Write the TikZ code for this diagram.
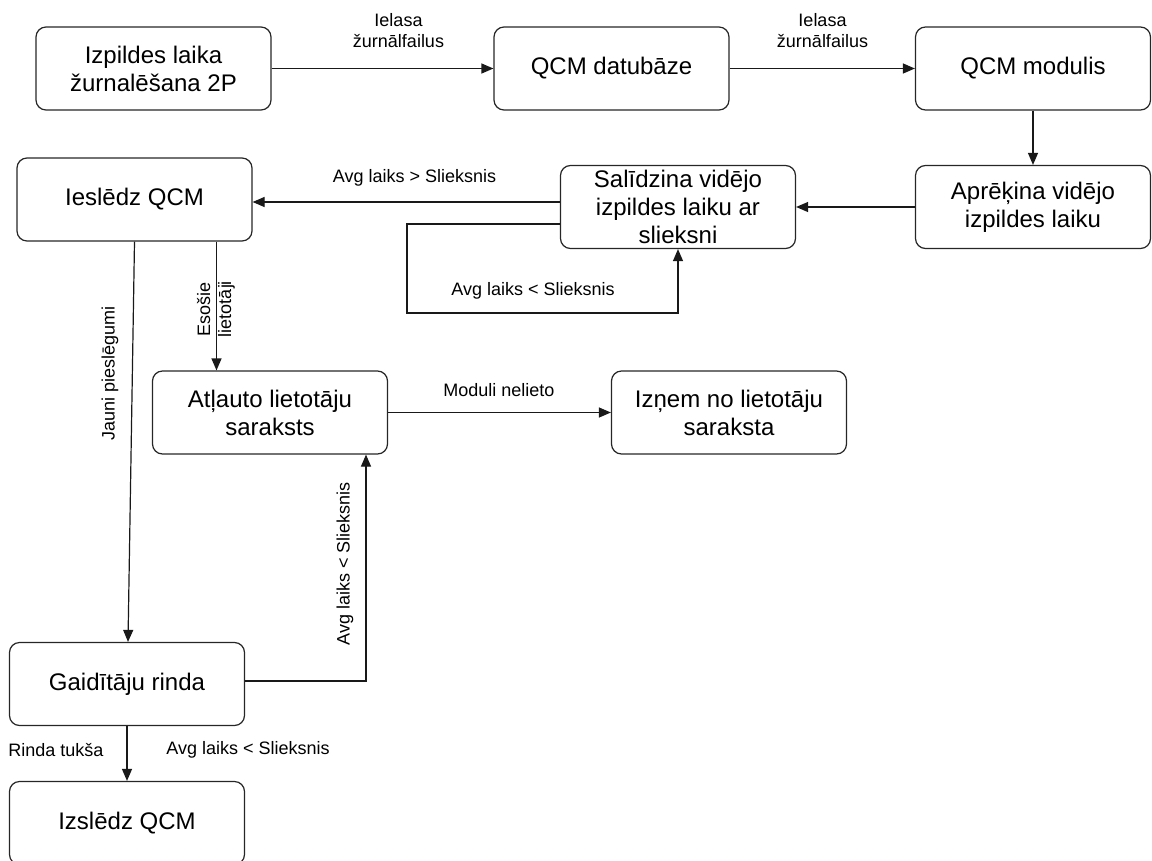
\documentclass[tikz,border=0pt]{standalone}
\usepackage{fontspec}
\setmainfont{Liberation Sans}
\usetikzlibrary{arrows.meta}
\begin{document}
\begin{tikzpicture}[x=1pt,y=-1pt]
\tikzstyle{every node}+=[inner sep=0pt]
\tikzstyle{box}=[draw=black!85, line width=1.2pt, rounded corners=10pt, minimum width=235pt, minimum height=83pt, align=center, font=\fontsize{24}{28}\selectfont]
\tikzstyle{lbl}=[font=\fontsize{18}{21}\selectfont, align=center]
\tikzstyle{arr}=[draw=black!90, line width=1.2pt, -{Triangle[length=12pt,width=10pt]}]
\useasboundingbox (0,0) rectangle (1152,860);
\node [box] (log) at (153.5,68.5) {Izpildes laika\\žurnalēšana 2P};
\node [box] (dbase) at (611.5,68.5) {QCM datubāze};
\node [box] (module) at (1033,68.5) {QCM modulis};
\node [box] (calc) at (1033,207) {Aprēķina vidējo\\izpildes laiku};
\node [box] (compare) at (678,207) {Salīdzina vidējo\\izpildes laiku ar\\slieksni};
\node [box] (enable) at (134.5,199.5) {Ieslēdz QCM};
\node [box] (allowed) at (270,412.5) {Atļauto lietotāju\\saraksts};
\node [box] (remove) at (729,412.5) {Izņem no lietotāju\\saraksta};
\node [box] (queue) at (127,684) {Gaidītāju rinda};
\node [box] (disable) at (127,823) {Izslēdz QCM};
\coordinate (loop) at (407,313);
\draw [arr] (log) -- (dbase);
\draw [arr] (dbase) -- (module);
\draw [arr] (module) -- (calc);
\draw [arr] (calc) -- (compare);
\draw [arr] ([yshift=5pt]compare.west) -- ([yshift=5pt]compare.west -| enable.east);
\draw [arr] ([yshift=-17pt]compare.west) -| (loop) -| (compare.south);
\draw [arr] (enable.south) -- ([xshift=1pt]queue.north);
\draw [arr] ([xshift=82pt]enable.south) -- ([xshift=82pt]enable.south |- allowed.north);
\draw [arr] (allowed) -- (remove);
\draw [arr] ([yshift=3pt]queue.east) -| ([xshift=96pt]allowed.south);
\draw [arr] (queue) -- (disable);
\node [lbl] (read1) at (398.5,31) {Ielasa\\žurnālfailus};
\node [lbl] (read2) at (822.5,31) {Ielasa\\žurnālfailus};
\node [lbl] (above) at (414.5,178) {Avg laiks > Slieksnis};
\node [lbl] (below) at (533,291) {Avg laiks < Slieksnis};
\node [lbl,rotate=90] (newconn) at (110,373) {Jauni pieslēgumi};
\node [lbl,rotate=90] (existing) at (216,309) {Esošie\\lietotāji};
\node [lbl] (unused) at (499,390) {Moduli nelieto};
\node [lbl,rotate=90] (back) at (345,564) {Avg laiks < Slieksnis};
\node [lbl] (empty) at (56,750) {Rinda tukša};
\node [lbl] (lower) at (248,750) {Avg laiks < Slieksnis};
\end{tikzpicture}
\end{document}
